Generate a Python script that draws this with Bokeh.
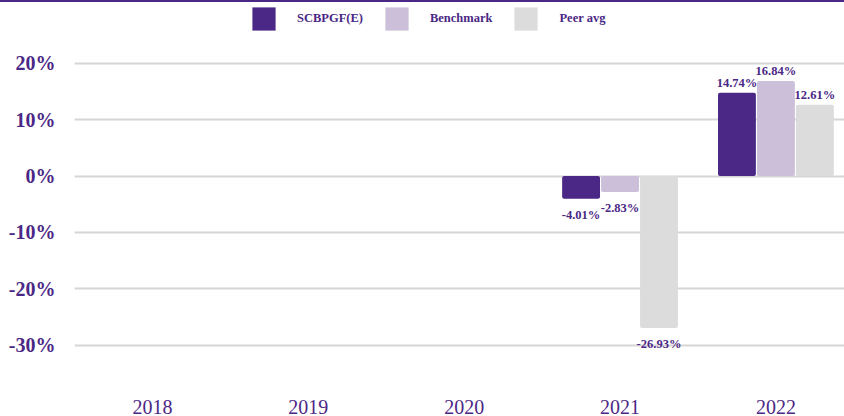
from bokeh.plotting import figure
from bokeh.models import (ColumnDataSource, Range1d, FixedTicker, Legend, LegendItem, Div)
from bokeh.layouts import column
from bokeh.transform import dodge
from bokeh.embed import file_html
from bokeh.resources import INLINE

years = ["2018", "2019", "2020", "2021", "2022"]
fund = [None, None, None, -4.01, 14.74]
bench = [None, None, None, -2.83, 16.84]
peer = [None, None, None, -26.93, 12.61]
series_names = ["SCBPGF(E)", "Benchmark", "Peer avg"]
y_ticks = [-30, -20, -10, 0, 10, 20]

colors = ["#4b2885", "#cbbfd9", "#dcdcdc"]
text_color = "#4b2885"
font = "Liberation Serif"

xs = list(range(len(years)))

p = figure(width=844, height=414, output_backend="svg", toolbar_location=None,
           x_range=Range1d(-0.5, len(years) - 0.56), y_range=Range1d(-36.75, 30.74),
           min_border_left=74, min_border_right=0, min_border_top=0, min_border_bottom=28,
           margin=0)
p.outline_line_color = None
p.background_fill_color = "white"
p.border_fill_color = "white"

offsets = [-0.25, 0.0, 0.25]
renderers = []
for vals, off, col in zip([fund, bench, peer], offsets, colors):
    tops = [float("nan") if v is None else v for v in vals]
    src = ColumnDataSource(dict(x=xs, top=tops))
    r = p.vbar(x=dodge("x", off), top="top", bottom=0, width=0.243, source=src,
               fill_color=col, line_color=None, border_radius=2)
    renderers.append(r)
    lx = [x for x, v in zip(xs, vals) if v is not None]
    lv = [v for v in vals if v is not None]
    lt = [f"{v:.2f}%" for v in lv]
    pos = ColumnDataSource(dict(x=[a for a, v in zip(lx, lv) if v >= 0],
                                y=[v for v in lv if v >= 0],
                                t=[t for t, v in zip(lt, lv) if v >= 0]))
    neg = ColumnDataSource(dict(x=[a for a, v in zip(lx, lv) if v < 0],
                                y=[v for v in lv if v < 0],
                                t=[t for t, v in zip(lt, lv) if v < 0]))
    p.text(x=dodge("x", off), y="y", text="t", source=pos, text_align="center",
           text_baseline="bottom", y_offset=-3, text_font_size="12.5px",
           text_font_style="bold", text_color=text_color, text_font={"value": font})
    p.text(x=dodge("x", off), y="y", text="t", source=neg, text_align="center",
           text_baseline="top", y_offset=9, text_font_size="12.5px",
           text_font_style="bold", text_color=text_color, text_font={"value": font})

p.yaxis.ticker = FixedTicker(ticks=y_ticks)
p.yaxis.major_label_overrides = {t: f"{t}%" for t in y_ticks}
p.yaxis.axis_line_color = None
p.yaxis.major_tick_line_color = None
p.yaxis.minor_tick_line_color = None
p.yaxis.major_tick_in = 0
p.yaxis.major_tick_out = 0
p.yaxis.major_label_standoff = 19
p.yaxis.major_label_text_font = font
p.yaxis.major_label_text_font_style = "bold"
p.yaxis.major_label_text_font_size = "20px"
p.yaxis.major_label_text_color = text_color

p.xaxis.ticker = FixedTicker(ticks=xs)
p.xaxis.major_label_overrides = {i: y for i, y in zip(xs, years)}
p.xaxis.axis_line_color = None
p.xaxis.major_tick_line_color = None
p.xaxis.minor_tick_line_color = None
p.xaxis.major_label_standoff = 10
p.xaxis.major_label_text_font = font
p.xaxis.major_label_text_font_size = "20px"
p.xaxis.major_label_text_color = text_color

p.xgrid.grid_line_color = None
p.ygrid.grid_line_color = "#d6d6d6"
p.ygrid.grid_line_width = 2
p.ygrid.ticker = FixedTicker(ticks=y_ticks)

legend = Legend(items=[LegendItem(label=n, renderers=[r]) for n, r in zip(series_names, renderers)],
                orientation="horizontal", location=(175, 350),
                glyph_width=29, glyph_height=29, label_standoff=19, spacing=19,
                padding=0, margin=0, border_line_color=None, background_fill_alpha=0,
                label_text_font=font, label_text_font_style="bold",
                label_text_font_size="12.5px", label_text_color=text_color)
p.add_layout(legend)

rule = Div(width=844, height=2, margin=0,
           styles={"background-color": text_color, "width": "844px", "height": "2px"})
layout = column(rule, p, spacing=0, margin=0)

open("out.html", "w").write(file_html(layout, INLINE))
